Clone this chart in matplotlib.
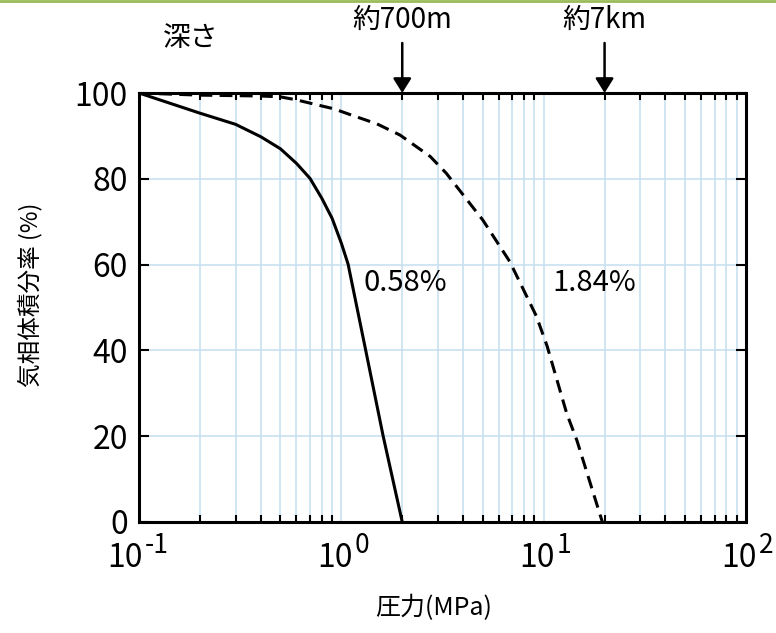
import matplotlib
matplotlib.use("Agg")
import matplotlib.pyplot as plt
from matplotlib.lines import Line2D
from matplotlib.ticker import LogLocator, NullFormatter

plt.rcParams['font.family'] = ['Noto Sans CJK JP', 'DejaVu Sans']

# Data (pressure MPa, gas volume fraction %)
solid_p = [0.1, 0.2, 0.3, 0.4, 0.5, 0.6, 0.7, 0.8, 0.9, 1.0, 1.08, 1.32, 1.61, 2.0]
solid_v = [100, 95.3, 92.7, 89.8, 87.0, 83.6, 80.1, 75.5, 70.8, 65.0, 60.1, 40, 20, 0]
dash_p = [0.1, 0.2, 0.4, 0.5, 0.6, 0.72, 0.92, 1.1, 1.5, 1.95, 2.75, 3.3, 5.0, 6.8,
          9.2, 10.4, 13.0, 14.6, 19.5]
dash_v = [100, 99.5, 99.3, 99.1, 98.4, 97.5, 96.3, 95.0, 92.8, 90.2, 85.2, 81.3, 70.4,
          60.7, 48, 41, 25.3, 19, 0]

labels = ["0.58%", "1.84%"]
label_p = [1.29, 11.1]
label_v = [55.7, 55.7]

depth_labels = ["約700m", "約7km"]
depth_p = [2.0, 20.0]

yticks = [0, 20, 40, 60, 80, 100]
xticks = [0.1, 1, 10, 100]
xtick_base = ["10", "10", "10", "10"]
xtick_exp = ["-1", "0", "1", "2"]

fig = plt.figure(figsize=(7.76, 6.33), dpi=100)
ax = fig.add_axes([139 / 776, 111 / 633, 607 / 776, 429 / 633])

grid_c = '#c9e0f0'
ax.set_xscale('log')
ax.set_xlim(0.1, 100)
ax.set_ylim(0, 100)

ax.plot(solid_p, solid_v, color='black', lw=2.2, zorder=3, solid_joinstyle='round')
ax.plot(dash_p, dash_v, color='black', lw=2.2, ls=(0, (4.2, 2.4)), zorder=3)

ax.set_xticks(xticks)
ax.set_xticklabels([""] * len(xticks))
ax.xaxis.set_minor_locator(LogLocator(base=10, subs=range(2, 10), numticks=20))
ax.xaxis.set_minor_formatter(NullFormatter())
ax.set_yticks(yticks)

ax.grid(True, which='both', axis='x', color=grid_c, lw=1.2, zorder=0)
ax.grid(True, which='major', axis='y', color=grid_c, lw=1.2, zorder=0)

ax.tick_params(axis='both', which='both', direction='in', top=True, right=True,
               color='black', width=1.5)
ax.tick_params(axis='x', which='major', length=0)
ax.tick_params(axis='x', which='minor', length=5)
ax.tick_params(axis='y', which='major', length=7, pad=8, labelsize=23)
for s in ax.spines.values():
    s.set_linewidth(2.2)
ax.set_axisbelow(True)

# x tick labels: "10" with a superscript exponent
for x, b, e in zip(xticks, xtick_base, xtick_exp):
    dx = 4 if e.startswith('-') else 11
    ax.annotate(b, xy=(x, 0), xycoords=('data', 'axes fraction'),
                xytext=(dx * 0.72, -45 * 0.72), textcoords='offset points',
                ha='right', va='baseline', fontsize=23, annotation_clip=False)
    ax.annotate(e, xy=(x, 0), xycoords=('data', 'axes fraction'),
                xytext=((dx + 2) * 0.72, -31 * 0.72), textcoords='offset points',
                ha='left', va='baseline', fontsize=19, annotation_clip=False)

for t, p, v in zip(labels, label_p, label_v):
    ax.text(p, v, t, fontsize=21, ha='left', va='center')

for t, p in zip(depth_labels, depth_p):
    ax.annotate('', xy=(p, 1.0), xycoords=('data', 'axes fraction'),
                xytext=(p, 1.1166), textcoords=('data', 'axes fraction'),
                arrowprops=dict(arrowstyle='-|>,head_length=0.4,head_width=0.25',
                                color='black', lw=1.8,
                                mutation_scale=22, shrinkA=0, shrinkB=0))
    ax.text(p, 1.170, t, transform=ax.get_xaxis_transform(), fontsize=20,
            ha='center', va='center')

fig.text(191 / 776, 1 - 38.5 / 633, '深さ', fontsize=20, ha='center', va='center')

fig.text(434 / 776, 1 - 608 / 633, '圧力(MPa)', fontsize=18, ha='center', va='center')
fig.text(30 / 776, 1 - 295 / 633, '気相体積分率 (%)', fontsize=17, ha='center',
         va='center', rotation=90)

fig.add_artist(Line2D([0, 1], [0.9985, 0.9985], transform=fig.transFigure,
                      color='#9bbb59', lw=2))

fig.savefig('out.png', dpi=100)
